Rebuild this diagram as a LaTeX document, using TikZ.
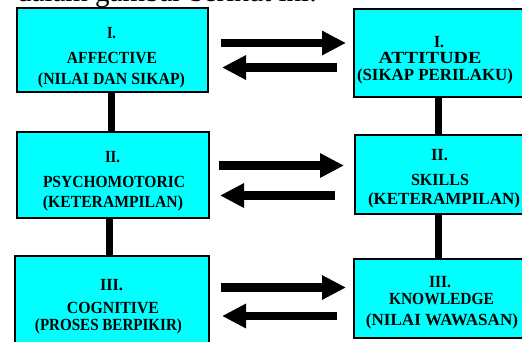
\documentclass[tikz,border=0pt]{standalone}
\usepackage{fontspec}
\setmainfont{Liberation Serif}
\usepackage{graphicx}
\usetikzlibrary{arrows.meta,calc}
\definecolor{boxcyan}{RGB}{0,255,255}
\newcommand{\lw}[2]{\resizebox{#1pt}{\height}{#2}}
\tikzset{
  box/.style={draw=black, line width=1.6pt, fill=boxcyan, inner sep=0pt, outer sep=0pt},
  txt/.style={anchor=base, inner sep=0pt, outer sep=0pt, font=\fontsize{17}{19}\selectfont\bfseries, text=black},
  arr/.style={line width=8.5pt, -{Triangle[length=24pt,width=23pt]}},
  link/.style={line width=7pt, black}
}
\begin{document}
\begin{tikzpicture}[x=1pt,y=-1pt]
\useasboundingbox (0,0) rectangle (522,341);
\clip (0,0) rectangle (522,341);
% clipped caption above
\node[anchor=base west, inner sep=0pt] (cap) at (17,1.5) {\lw{300}{\fontsize{29}{32}\selectfont dalam gambar berikut ini:}};
% boxes
\node[box, minimum width=191pt, minimum height=84pt] (L1) at (112.5,50) {};
\node[box, minimum width=170pt, minimum height=88pt] (R1) at (439,53) {};
\node[box, minimum width=192pt, minimum height=86pt] (L2) at (113,175) {};
\node[box, minimum width=169pt, minimum height=79pt] (R2) at (439.5,174.5) {};
\node[box, minimum width=194pt, minimum height=90pt] (L3) at (112,301) {};
\node[box, minimum width=170pt, minimum height=79pt] (R3) at (439,298.5) {};
% texts
\node[txt] (L1a) at (111.5,38.5) {\lw{9}{I.}};
\node[txt] (L1b) at (112,63.5) {\lw{90}{AFFECTIVE}};
\node[txt] (L1c) at (111.5,84.5) {\lw{147}{(NILAI DAN SIKAP)}};
\node[txt] (R1a) at (439,47) {\lw{10}{I.}};
\node[txt] (R1b) at (430,63) {\lw{103}{ATTITUDE}};
\node[txt] (R1c) at (435,80.5) {\lw{156}{(SIKAP PERILAKU)}};
\node[txt] (L2a) at (112.5,162.5) {\lw{15}{II.}};
\node[txt] (L2b) at (114,187.5) {\lw{142}{PSYCHOMOTORIC}};
\node[txt] (L2c) at (113,207.5) {\lw{140}{(KETERAMPILAN)}};
\node[txt] (R2a) at (439.5,160.5) {\lw{17}{II.}};
\node[txt] (R2b) at (440,185.5) {\lw{58}{SKILLS}};
\node[txt] (R2c) at (444,204.5) {\lw{152}{(KETERAMPILAN)}};
\node[txt] (L3a) at (111.5,290.5) {\lw{23}{III.}};
\node[txt] (L3b) at (113,313.5) {\lw{92}{COGNITIVE}};
\node[txt] (L3c) at (108.5,330.5) {\lw{147}{(PROSES BERPIKIR)}};
\node[txt] (R3a) at (440,287.5) {\lw{22}{III.}};
\node[txt] (R3b) at (441.5,304.5) {\lw{105}{KNOWLEDGE}};
\node[txt] (R3c) at (442,325.5) {\lw{152}{(NILAI WAWASAN)}};
% vertical links
\draw[link] ($(L1.south)+(-1,0)$) -- ($(L2.north)+(-1.5,0)$);
\draw[link] ($(L2.south)+(-4,0)$) -- ($(L3.north)+(-3,0)$);
\draw[link] ($(R1.south)+(-0.5,0)$) -- ($(R2.north)+(-1,0)$);
\draw[link] ($(R2.south)+(-1,0)$) -- ($(R3.north)+(-0.5,0)$);
% arrows
\draw[arr] ($(L1.east)+(13,-7)$) -- ($(R1.west)+(-8,-10)$);
\draw[arr] ($(R1.west)+(-17,14.5)$) -- ($(L1.east)+(14,17.5)$);
\draw[arr] ($(L2.east)+(10,-9.5)$) -- ($(R2.west)+(-11,-9)$);
\draw[arr] ($(R2.west)+(-20,21)$) -- ($(L2.east)+(11,20.5)$);
\draw[arr] ($(L3.east)+(12,-13.5)$) -- ($(R3.west)+(-8,-11)$);
\draw[arr] ($(R3.west)+(-17,17.5)$) -- ($(L3.east)+(13,15)$);
\end{tikzpicture}
\end{document}
